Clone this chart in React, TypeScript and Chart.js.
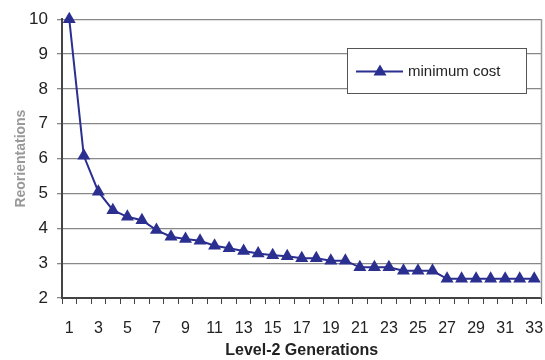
import React, { useEffect, useRef } from "react";
import { Chart, registerables } from "chart.js";

Chart.register(...registerables);

const categories = ["1","2","3","4","5","6","7","8","9","10","11","12","13","14","15","16","17","18","19","20","21","22","23","24","25","26","27","28","29","30","31","32","33"];
const minimumCost = [10, 6.08, 5.05, 4.52, 4.33, 4.23, 3.95, 3.76, 3.69, 3.64, 3.5, 3.43, 3.35, 3.28, 3.23, 3.2, 3.14, 3.14, 3.07, 3.07, 2.88, 2.88, 2.88, 2.78, 2.78, 2.78, 2.55, 2.55, 2.55, 2.55, 2.55, 2.55, 2.55];
const seriesLabel = "minimum cost";
const xTitle = "Level-2 Generations";
const yTitle = "Reorientations";

const NAVY = "#2B2F8F";
const FONT = "'Liberation Sans', Arial, sans-serif";

const legendPlugin = {
  id: "boxLegend",
  afterDatasetsDraw(chart: any) {
    const ctx = chart.ctx;
    const area = chart.chartArea;
    ctx.save();
    ctx.strokeStyle = "#999";
    ctx.lineWidth = 1.5;
    ctx.beginPath();
    ctx.moveTo(area.right, area.top);
    ctx.lineTo(area.right, area.bottom);
    ctx.stroke();

    const bx = 347, by = 48, bw = 179, bh = 45;
    ctx.fillStyle = "#fff";
    ctx.fillRect(bx, by, bw, bh);
    ctx.strokeStyle = "#555";
    ctx.lineWidth = 1;
    ctx.strokeRect(bx + 0.5, by + 0.5, bw, bh);
    const cy = by + bh / 2 + 1;
    ctx.strokeStyle = NAVY;
    ctx.lineWidth = 2;
    ctx.beginPath();
    ctx.moveTo(356, cy);
    ctx.lineTo(403, cy);
    ctx.stroke();
    ctx.fillStyle = NAVY;
    ctx.beginPath();
    ctx.moveTo(380, cy - 7);
    ctx.lineTo(386.5, cy + 4);
    ctx.lineTo(373.5, cy + 4);
    ctx.closePath();
    ctx.fill();
    ctx.fillStyle = "#222";
    ctx.font = `15px ${FONT}`;
    ctx.textBaseline = "middle";
    ctx.textAlign = "left";
    ctx.fillText(chart.data.datasets[0].label, 408, cy);
    ctx.restore();
  },
};

export default function App() {
  const ref = useRef<HTMLCanvasElement>(null);
  useEffect(() => {
    document.body.style.margin = "0";
    const chart = new Chart(ref.current!, {
      type: "line",
      data: {
        labels: categories,
        datasets: [
          {
            label: seriesLabel,
            data: minimumCost,
            borderColor: NAVY,
            backgroundColor: NAVY,
            borderWidth: 2,
            pointStyle: "triangle",
            pointRadius: 7.5,
            pointHoverRadius: 7.5,
            pointBackgroundColor: NAVY,
            pointBorderColor: NAVY,
            pointBorderWidth: 0,
            tension: 0,
            clip: false,
          },
        ],
      },
      options: {
        responsive: false,
        animation: false,
        layout: { padding: { top: 18, right: 0, left: 0, bottom: 0 } },
        plugins: { legend: { display: false }, tooltip: { enabled: false } },
        scales: {
          x: {
            offset: true,
            afterFit: (s: any) => { s.height = 62; s.paddingRight = 0; s.paddingLeft = 0; },
            grid: { offset: true, drawOnChartArea: false, drawTicks: true, tickLength: 6, color: "#444", lineWidth: 1 },
            border: { color: "#444", width: 2 },
            ticks: {
              autoSkip: false,
              maxRotation: 0,
              padding: 15,
              color: "#222",
              font: { family: FONT, size: 16 },
              callback: (_v: any, i: number) => (i % 2 === 0 ? categories[i] : ""),
            },
            title: {
              display: true,
              text: xTitle,
              color: "#222",
              font: { family: FONT, size: 16, weight: "bold" },
              padding: { top: 0, bottom: 0 },
            },
          },
          y: {
            min: 2,
            max: 10,
            afterFit: (s: any) => { s.width = 62; },
            grid: { color: "#888", lineWidth: 1.3, drawTicks: true, tickLength: 5 },
            border: { color: "#444", width: 2 },
            ticks: {
              stepSize: 1,
              padding: 9,
              color: "#222",
              font: { family: FONT, size: 17 },
            },
            title: {
              display: true,
              text: yTitle,
              color: "#999",
              font: { family: FONT, size: 14, weight: "bold" },
              padding: { top: 13, bottom: 0 },
            },
          },
        },
      },
      plugins: [legendPlugin],
    });
    return () => chart.destroy();
  }, []);
  return (
    <div style={{ position: "absolute", left: 0, top: 0, width: 545, height: 360, overflow: "hidden" }}>
      <canvas ref={ref} width={549} height={360} style={{ display: "block" }} />
    </div>
  );
}
